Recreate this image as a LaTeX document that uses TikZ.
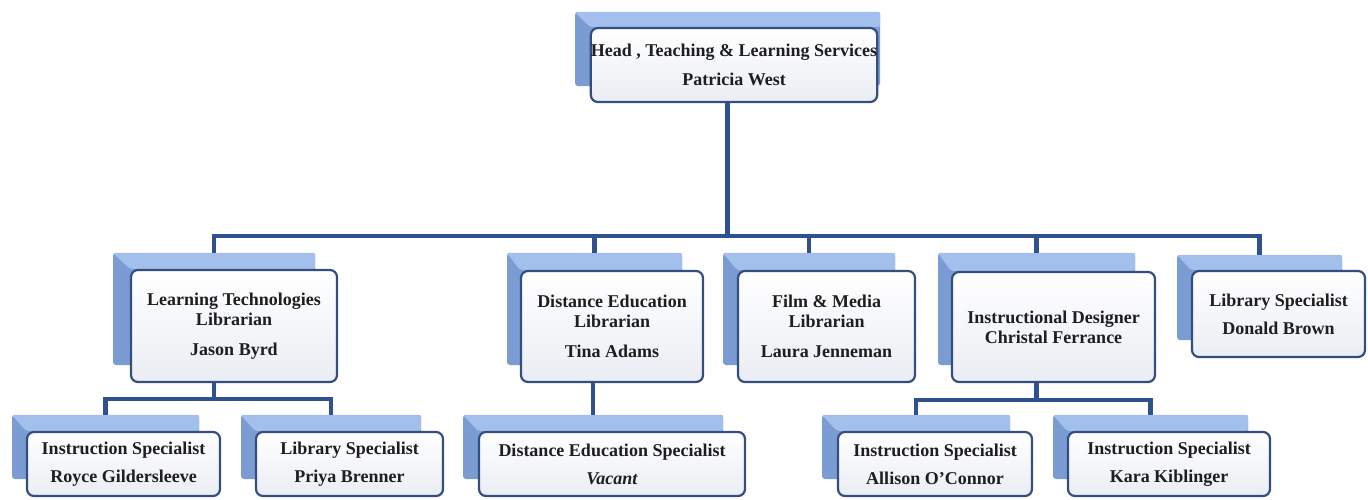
\documentclass[tikz,border=0pt]{standalone}
\usepackage{fontspec}
\setmainfont{Liberation Serif}
\usepackage{tikz}
\usetikzlibrary{backgrounds}

\definecolor{wireblue}{RGB}{47,82,143}
\definecolor{edgeblue}{RGB}{52,78,128}
\definecolor{cardlow}{RGB}{234,237,243}
\definecolor{bevelside}{RGB}{122,156,210}
\definecolor{beveltop}{RGB}{163,192,236}
\definecolor{inkgray}{RGB}{30,30,30}

\begin{document}
\begin{tikzpicture}[
    x=1pt, y=-1pt,
    every node/.style={font=\bfseries\fontsize{18}{20}\selectfont, text=inkgray},
    card/.style={draw=edgeblue, line width=2.2pt, rounded corners=7pt,
        top color=white, bottom color=cardlow, align=center, inner sep=0pt},
    bevel/.style={fill=bevelside, rounded corners=3pt, inner sep=0pt},
    bevtop/.style={fill=beveltop, rounded corners=2pt},
    wire/.style={draw=wireblue, line width=4.6pt}
]
\useasboundingbox (0,0) rectangle (1368,499);

% Cards
\node[card, minimum width=286, minimum height=74] (head) at (734,65)
    {Head , Teaching \& Learning Services\\[9pt]Patricia West};

\node[card, minimum width=206, minimum height=112] (lt) at (234,326)
    {Learning Technologies\\Librarian\\[10pt]Jason Byrd};
\node[card, minimum width=182, minimum height=111] (de) at (612,326.5)
    {Distance Education\\Librarian\\[10pt]Tina Adams};
\node[card, minimum width=177, minimum height=111] (fm) at (826.5,326.5)
    {Film \& Media\\Librarian\\[10pt]Laura Jenneman};
\node[card, minimum width=203, minimum height=110] (id) at (1053.5,327)
    {Instructional Designer\\Christal Ferrance};
\node[card, minimum width=173, minimum height=86] (db) at (1278.5,314)
    {Library Specialist\\[8pt]Donald Brown};

\node[card, minimum width=193, minimum height=64] (roy) at (123.5,464)
    {Instruction Specialist\\[8pt]Royce Gildersleeve};
\node[card, minimum width=187, minimum height=64] (pri) at (349.5,464)
    {Library Specialist\\[8pt]Priya Brenner};
\node[card, minimum width=266, minimum height=64] (des) at (612,464)
    {Distance Education Specialist\\[8pt]\textit{Vacant}};
\node[card, minimum width=194, minimum height=64] (all) at (935,464)
    {Instruction Specialist\\[8pt]Allison O’Connor};
\node[card, minimum width=202, minimum height=64] (kar) at (1169,464)
    {Instruction Specialist\\[8pt]Kara Kiblinger};

% Raised backs
\begin{scope}[on background layer]
\node[bevel, minimum width=305, minimum height=74] (head-back) at (727.5,49) {};
\node[bevel, minimum width=202, minimum height=112] (lt-back) at (214,309) {};
\node[bevel, minimum width=175, minimum height=112] (de-back) at (594.5,309) {};
\node[bevel, minimum width=172, minimum height=112] (fm-back) at (809,309) {};
\node[bevel, minimum width=197, minimum height=112] (id-back) at (1036.5,309) {};
\node[bevel, minimum width=165, minimum height=85] (db-back) at (1259.5,297.5) {};
\node[bevel, minimum width=187, minimum height=64] (roy-back) at (105.5,447) {};
\node[bevel, minimum width=180, minimum height=64] (pri-back) at (331,447) {};
\node[bevel, minimum width=260, minimum height=64] (des-back) at (593,447) {};
\node[bevel, minimum width=188, minimum height=64] (all-back) at (916,447) {};
\node[bevel, minimum width=195, minimum height=64] (kar-back) at (1150.5,447) {};
\foreach \n in {head,lt,de,fm,id,db,roy,pri,des,all,kar}
    \fill[bevtop] (\n-back.north west) -- (\n-back.north east)
        -- (\n-back.north east |- \n.north) -- (\n.north west) -- cycle;
\end{scope}

% Connectors
\coordinate (bus) at (727.5,236);
\draw[wire] (head-back |- head.south) -- (bus);
\draw[wire] (lt-back.north) |- (bus) -| (db-back.north);
\foreach \n in {de,fm,id}
    \draw[wire] (\n-back.north |- bus) -- (\n-back.north);

\coordinate (lt-bus) at (214,399);
\draw[wire] (lt-back |- lt.south) -- (lt-bus);
\draw[wire] (roy-back.north) |- (lt-bus) -| (pri-back.north);

\draw[wire] (des-back.north |- de.south) -- (des-back.north);

\coordinate (id-bus) at (1036.5,400);
\draw[wire] (id-back |- id.south) -- (id-bus);
\draw[wire] (all-back.north) |- (id-bus) -| (kar-back.north);

\end{tikzpicture}
\end{document}
